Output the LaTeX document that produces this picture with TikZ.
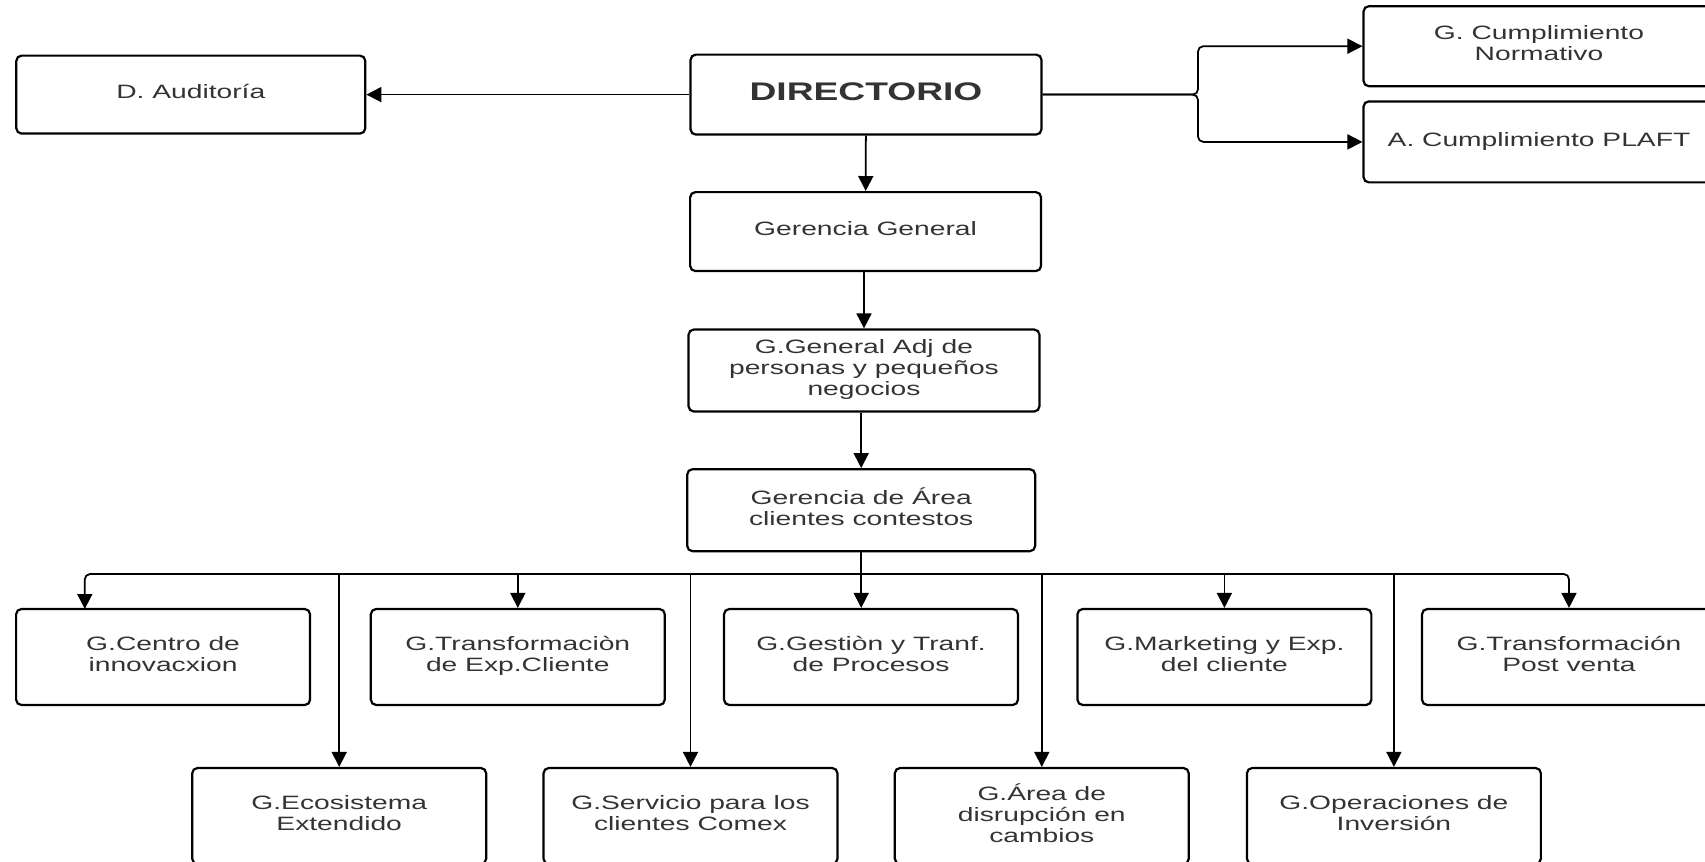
\documentclass[tikz,border=0pt]{standalone}
\usepackage{fontspec}
\newfontfamily\boxfont[FakeStretch=1.46]{Liberation Sans}
\usetikzlibrary{positioning, arrows.meta}
\definecolor{orgtext}{HTML}{333333}

\begin{document}
\begin{tikzpicture}[x=0.02cm, y=-0.02cm,
    unitbox/.style={draw=black, line width=1.25pt, rounded corners=3pt, text=orgtext,
                    font=\boxfont\fontsize{11}{12}\selectfont, align=center,
                    minimum width=7.02cm, minimum height=1.6cm, inner sep=2pt,
                    execute at end node={\strut}},
    subbox/.style={unitbox, minimum width=5.88cm, minimum height=1.92cm},
    edg/.style={draw=black, line width=1pt, -{Triangle[length=3mm, width=3mm]}},
    bus/.style={draw=black, line width=1pt}]
    \clip (0,0) rectangle (1705,862);
    \useasboundingbox (0,0) rectangle (1705,862);
    % top level
    \node[unitbox] (dir) at (866,94.6) {\fontsize{14.5}{16}\selectfont\bfseries DIRECTORIO};
    \node[unitbox, minimum width=6.98cm, minimum height=1.56cm] (aud) at (190.8,94.6) {D. Auditoría};
    \node[unitbox] (norm) at (1539,46.2) {G. Cumplimiento\\Normativo};
    \node[unitbox, minimum height=1.62cm] (plaft) at (1539,141.9) {A. Cumplimiento PLAFT};
    \node[unitbox, minimum height=1.58cm] (gg) at (865.6,231.6) {Gerencia General};
    \node[unitbox, minimum height=1.64cm] (adj) at (864,370.5) {G.General Adj de\\personas y pequeños\\negocios};
    \node[unitbox, minimum width=6.96cm, minimum height=1.64cm] (area) at (861.2,510.2) {Gerencia de Área\\clientes contestos};
    % first row
    \node[subbox] (centro)    at (163.1,657)  {G.Centro de\\innovacxion};
    \node[subbox] (transexp)  at (517.8,657)  {G.Transformaciòn\\de Exp.Cliente};
    \node[subbox] (gestion)   at (871,657)    {G.Gestiòn y Tranf.\\de Procesos};
    \node[subbox] (marketing) at (1224.4,657) {G.Marketing y Exp.\\del cliente};
    \node[subbox] (post)      at (1569,657)   {G.Transformación\\Post venta};
    % second row
    \node[subbox] (ecosis)   at (339.2,816)  {G.Ecosistema\\Extendido};
    \node[subbox] (servicio) at (690.5,816)  {G.Servicio para los\\clientes Comex};
    \node[subbox] (disrup)   at (1041.8,816) {G.Área de\\disrupción en\\cambios};
    \node[subbox] (operac)   at (1393.9,816) {G.Operaciones de\\Inversión};
    % connectors
    \coordinate (split) at (1198,94.6);
    \coordinate (busmid) at (861.2,574);
    \coordinate (centroin) at (84.8,609);
    \draw[edg] (dir.west) -- (aud.east);
    \draw[edg, rounded corners=3pt] (dir.east) -- (split) |- (norm.west);
    \draw[edg, rounded corners=3pt] (dir.east) -- (split) |- (plaft.west);
    \draw[edg] (dir) -- (gg);
    \draw[edg] (gg.south -| adj.north) -- (adj.north);
    \draw[edg] (adj.south -| area.north) -- (area.north);
    \draw[bus, {Triangle[length=3mm, width=3mm]}-{Triangle[length=3mm, width=3mm]}, rounded corners=3pt]
        (centroin) |- (busmid) -| (post.north);
    \draw[edg] (area.south) -- (area.south |- gestion.north);
    \foreach \n in {transexp, marketing, ecosis, servicio, disrup, operac}
        \draw[edg] (\n.north |- busmid) -- (\n.north);
\end{tikzpicture}
\end{document}
